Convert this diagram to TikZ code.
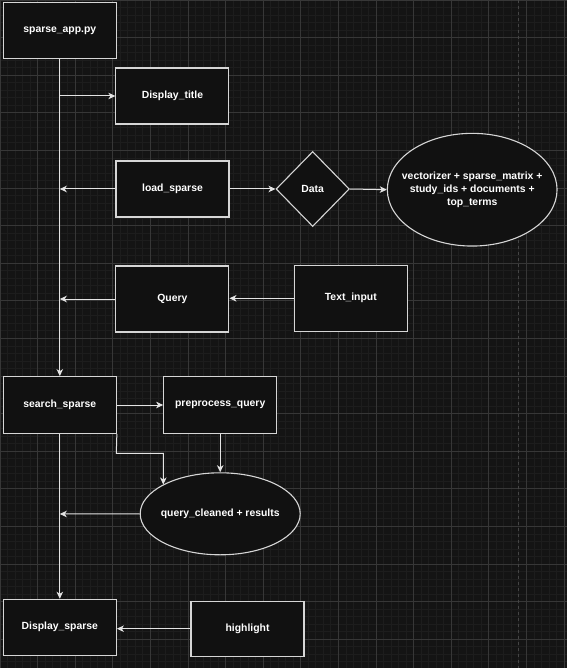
\documentclass[tikz,border=0pt]{standalone}
\usepackage{fontspec}
\setmainfont{Liberation Sans}
\usetikzlibrary{shapes.geometric,arrows.meta}
\definecolor{bgc}{HTML}{141414}
\definecolor{minorc}{HTML}{1D1D1D}
\definecolor{majorc}{HTML}{373737}
\definecolor{fillc}{HTML}{111111}
\definecolor{edgec}{HTML}{D6D6D6}
\definecolor{linec}{HTML}{E4E4E4}
\definecolor{pagec}{HTML}{454545}
\tikzset{
  lbl/.style={text=white,font=\fontsize{10.4}{13.3}\selectfont\bfseries,align=center},
  box/.style={lbl,draw=edgec,fill=fillc,line width=1.1pt,rectangle,minimum width=113pt,minimum height=56pt,inner sep=0pt},
  oval/.style={draw=edgec,fill=fillc,line width=1.1pt,ellipse,inner sep=0pt},
  rhomb/.style={lbl,draw=edgec,fill=fillc,line width=1.1pt,diamond,inner sep=0pt},
  conn/.style={draw=linec,line width=1pt,-{Stealth[length=7pt,width=6.5pt,inset=2pt]}}
}
\begin{document}
\begin{tikzpicture}[x=1pt,y=-1pt]
\useasboundingbox (0,0) rectangle (567,668);
\fill[bgc] (0,0) rectangle (567,668);
% minor grid
\foreach \i in {0,...,76} {\draw[minorc,line width=0.8pt] (\i*7.52,0) -- (\i*7.52,668);}
\foreach \j in {0,...,89} {\draw[minorc,line width=0.8pt] (0,\j*7.52) -- (567,\j*7.52);}
% major grid
\foreach \i in {0,...,15} {\draw[majorc,line width=0.9pt] (\i*37.6,0) -- (\i*37.6,668);}
\foreach \j in {0,...,17} {\draw[majorc,line width=0.9pt] (0,\j*37.6) -- (567,\j*37.6);}
% page break line
\draw[pagec,line width=0.9pt,dash pattern=on 3pt off 3pt] (518,0) -- (518,668);

% nodes
\node[box] (app) at (59.8,30.3) {sparse\_app.py};
\node[box] (title) at (172.4,96) {Display\_title};
\node[box] (load) at (172.5,189) {load\_sparse};
\node[rhomb,minimum width=73.3pt,minimum height=75pt] (data) at (312.7,189) {Data};
\node[oval,minimum width=169.7pt,minimum height=112.7pt,label={[lbl]center:vectorizer + sparse\_matrix +\\study\_ids + documents +\\top\_terms}] (dataout) at (472.2,189.7) {};
\node[box,minimum height=66pt] (query) at (172.4,299) {Query};
\node[box,minimum height=66pt] (textin) at (350.8,298.3) {Text\_input};
\node[box,minimum height=56.7pt] (search) at (59.8,405) {search\_sparse};
\node[box,minimum height=56.7pt] (prep) at (220.2,405) {preprocess\_query};
\node[oval,minimum width=160pt,minimum height=82pt,label={[lbl]center:query\_cleaned + results}] (qres) at (220.2,513.8) {};
\node[box] (disp) at (59.8,627.3) {Display\_sparse};
\node[box,minimum height=54.7pt] (hl) at (247.5,628.7) {highlight};

% coordinates on the main line
\coordinate (t1) at (59.8,96);
\coordinate (t2) at (59.8,189);
\coordinate (t3) at (59.8,299);
\coordinate (t4) at (59.8,514);
\coordinate (b1) at (116.3,453.3);
\coordinate (b2) at (163.3,453.3);
\coordinate (qin) at (163.3,484.5);

% connectors
\draw[conn] (app.south) -- (search.north);
\draw[conn] (t1) -- (title.west);
\draw[conn] (load.west) -- (t2);
\draw[conn] (load.east) -- (data.west);
\draw[conn] (data.east) -- (dataout.west);
\draw[conn] (query.west) -- (t3);
\draw[conn] (textin.west) -- (query.east |- textin.west);
\draw[conn] (search.east) -- (prep.west);
\draw[conn] (search.south east) -- (b1) -- (b2) -- (qin);
\draw[conn] (prep.south) -- (qres.north);
\draw[conn] (qres.west) -- (t4);
\draw[conn] (search.south) -- (disp.north);
\draw[conn] (hl.west) -- (disp.east |- hl.west);
\end{tikzpicture}
\end{document}
